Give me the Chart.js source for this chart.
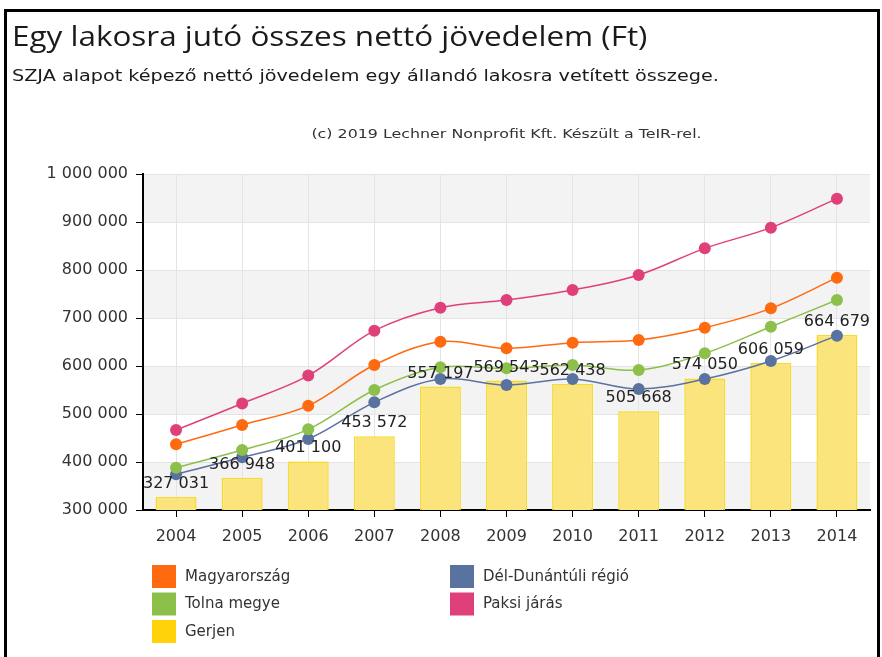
<!DOCTYPE html>
<html>
<head>
<meta charset="utf-8">
<script src="https://cdn.jsdelivr.net/npm/chart.js@4.4.0/dist/chart.umd.min.js"></script>
<style>
  body { margin: 0; background: #fff; }
  #wrap { position: relative; width: 882px; height: 657px; }
  #frame { position: absolute; left: 4px; top: 9px; width: 870px; height: 660px;
           border: 3px solid #000; border-bottom: none; pointer-events: none; }
</style>
</head>
<body>
<div id="wrap">
  <canvas id="chart" width="882" height="657"></canvas>
  <div id="frame"></div>
</div>
<script>
// years on the x axis
let years = ['2004', '2005', '2006', '2007', '2008', '2009', '2010', '2011', '2012', '2013', '2014'];

// Ft / lakos
let gerjen = [327031, 366948, 401100, 453572, 557197, 569543, 562438, 505668, 574050, 606059, 664679];
let magyarorszag = [436800, 477100, 517400, 602100, 650700, 636800, 648600, 654200, 679900, 720100, 784000];
let tolnaMegye = [388200, 425000, 468100, 550000, 597300, 595100, 602100, 591700, 626400, 681900, 737500];
let delDunantul = [374300, 409700, 447900, 524300, 572900, 560400, 572900, 552100, 572900, 610400, 663200];
let paksiJaras = [466700, 522000, 580000, 673600, 721500, 737500, 758300, 789600, 845100, 888200, 948600];

let yMin = 300000;
let yMax = 1000000;
let yStep = 100000;

let titleText = 'Egy lakosra jutó összes nettó jövedelem (Ft)';
let subtitleText = 'SZJA alapot képező nettó jövedelem egy állandó lakosra vetített összege.';
let creditText = '(c) 2019 Lechner Nonprofit Kft. Készült a TeIR-rel.';

function fmt(v) {
    return String(v).replace(/\B(?=(\d{3})+(?!\d))/g, ' ');
}

let tickFont = { family: 'DejaVu Sans', size: 16 };

function line(label, data, color) {
    return {
        type: 'line',
        label: label,
        data: data,
        borderColor: color,
        backgroundColor: color,
        legendColor: color,
        borderWidth: 1.5,
        pointRadius: 6,
        pointBorderWidth: 0,
        pointBackgroundColor: color,
        tension: 0.35,
        order: 1
    };
}

// alternating grey bands behind the grid
let bands = {
    id: 'bands',
    beforeDraw(chart) {
        let ctx = chart.ctx, a = chart.chartArea, y = chart.scales.y;
        ctx.save();
        ctx.fillStyle = '#f3f3f3';
        let grey = true;
        for (let v = yMax; v > yMin; v -= yStep) {
            if (grey) {
                let top = y.getPixelForValue(v), bot = y.getPixelForValue(v - yStep);
                ctx.fillRect(a.left, top, a.right - a.left, bot - top);
            }
            grey = !grey;
        }
        ctx.restore();
    }
};

// value labels above the Gerjen bars
let barLabels = {
    id: 'barLabels',
    afterDatasetsDraw(chart) {
        let ctx = chart.ctx;
        chart.data.datasets.forEach((ds, i) => {
            if (ds.type !== 'bar') return;
            let meta = chart.getDatasetMeta(i);
            ctx.save();
            ctx.font = '16px "DejaVu Sans"';
            ctx.fillStyle = '#222';
            ctx.textAlign = 'center';
            ctx.textBaseline = 'alphabetic';
            meta.data.forEach((el, j) => {
                ctx.fillText(fmt(ds.data[j]), el.x, el.y - 9);
            });
            ctx.restore();
        });
    }
};

// text drawn a bit wider, the source picture is stretched sideways
function wideText(ctx, text, x, y, sx) {
    ctx.save();
    ctx.translate(x, y);
    ctx.scale(sx, 1);
    ctx.fillText(text, 0, 0);
    ctx.restore();
}

// titles + two column legend
let texts = {
    id: 'texts',
    afterDraw(chart) {
        let ctx = chart.ctx, a = chart.chartArea;
        ctx.save();
        ctx.fillStyle = '#1a1a1a';
        ctx.textBaseline = 'alphabetic';
        ctx.textAlign = 'left';
        ctx.font = '27px "Open Sans"';
        wideText(ctx, titleText, 12, 46, 1.165);
        ctx.font = '16px "DejaVu Sans"';
        wideText(ctx, subtitleText, 12, 81, 1.2);
        ctx.font = '13px "DejaVu Sans"';
        ctx.fillStyle = '#333';
        ctx.textAlign = 'center';
        wideText(ctx, creditText, (a.left + a.right) / 2, 138, 1.22);

        ctx.textAlign = 'left';
        ctx.textBaseline = 'middle';
        ctx.font = '15px "DejaVu Sans"';
        chart.data.datasets.forEach((ds, i) => {
            let col = Math.floor(i / 3), row = i % 3;
            let x = 152 + col * 298, y = 565 + row * 27.5;
            ctx.fillStyle = ds.legendColor;
            ctx.fillRect(x, y, 24, 23);
            ctx.fillStyle = '#333';
            ctx.fillText(ds.label, x + 33, y + 12);
        });
        ctx.restore();
    }
};

new Chart(document.getElementById('chart'), {
    type: 'bar',
    data: {
        labels: years,
        datasets: [
            line('Magyarország', magyarorszag, '#ff6a10'),
            line('Tolna megye', tolnaMegye, '#8cc04b'),
            {
                type: 'bar',
                label: 'Gerjen',
                data: gerjen,
                backgroundColor: '#fbe47c',
                borderColor: '#f6dc2a',
                borderWidth: 1.5,
                legendColor: '#ffd20a',
                barPercentage: 0.62,
                categoryPercentage: 1,
                order: 10
            },
            line('Dél-Dunántúli régió', delDunantul, '#5a72a0'),
            line('Paksi járás', paksiJaras, '#e0407a')
        ]
    },
    options: {
        responsive: false,
        devicePixelRatio: 1,
        animation: false,
        layout: { padding: { top: 174, left: 0, right: 12, bottom: 107 } },
        plugins: {
            legend: { display: false },
            tooltip: { enabled: false }
        },
        scales: {
            x: {
                offset: true,
                afterFit(s) { s.height = 40; },
                grid: { offset: false, color: '#e4e4e4', tickColor: '#000', tickLength: 7 },
                border: { color: '#000', width: 2 },
                ticks: { font: tickFont, color: '#333', padding: 10 }
            },
            y: {
                min: yMin,
                max: yMax,
                afterFit(s) { s.width = 143; },
                grid: { color: '#e4e4e4', tickColor: '#000', tickLength: 7 },
                border: { color: '#000', width: 2 },
                ticks: { stepSize: yStep, font: tickFont, color: '#333', padding: 8, callback: v => fmt(v) }
            }
        }
    },
    plugins: [bands, barLabels, texts]
});
</script>
</body>
</html>
